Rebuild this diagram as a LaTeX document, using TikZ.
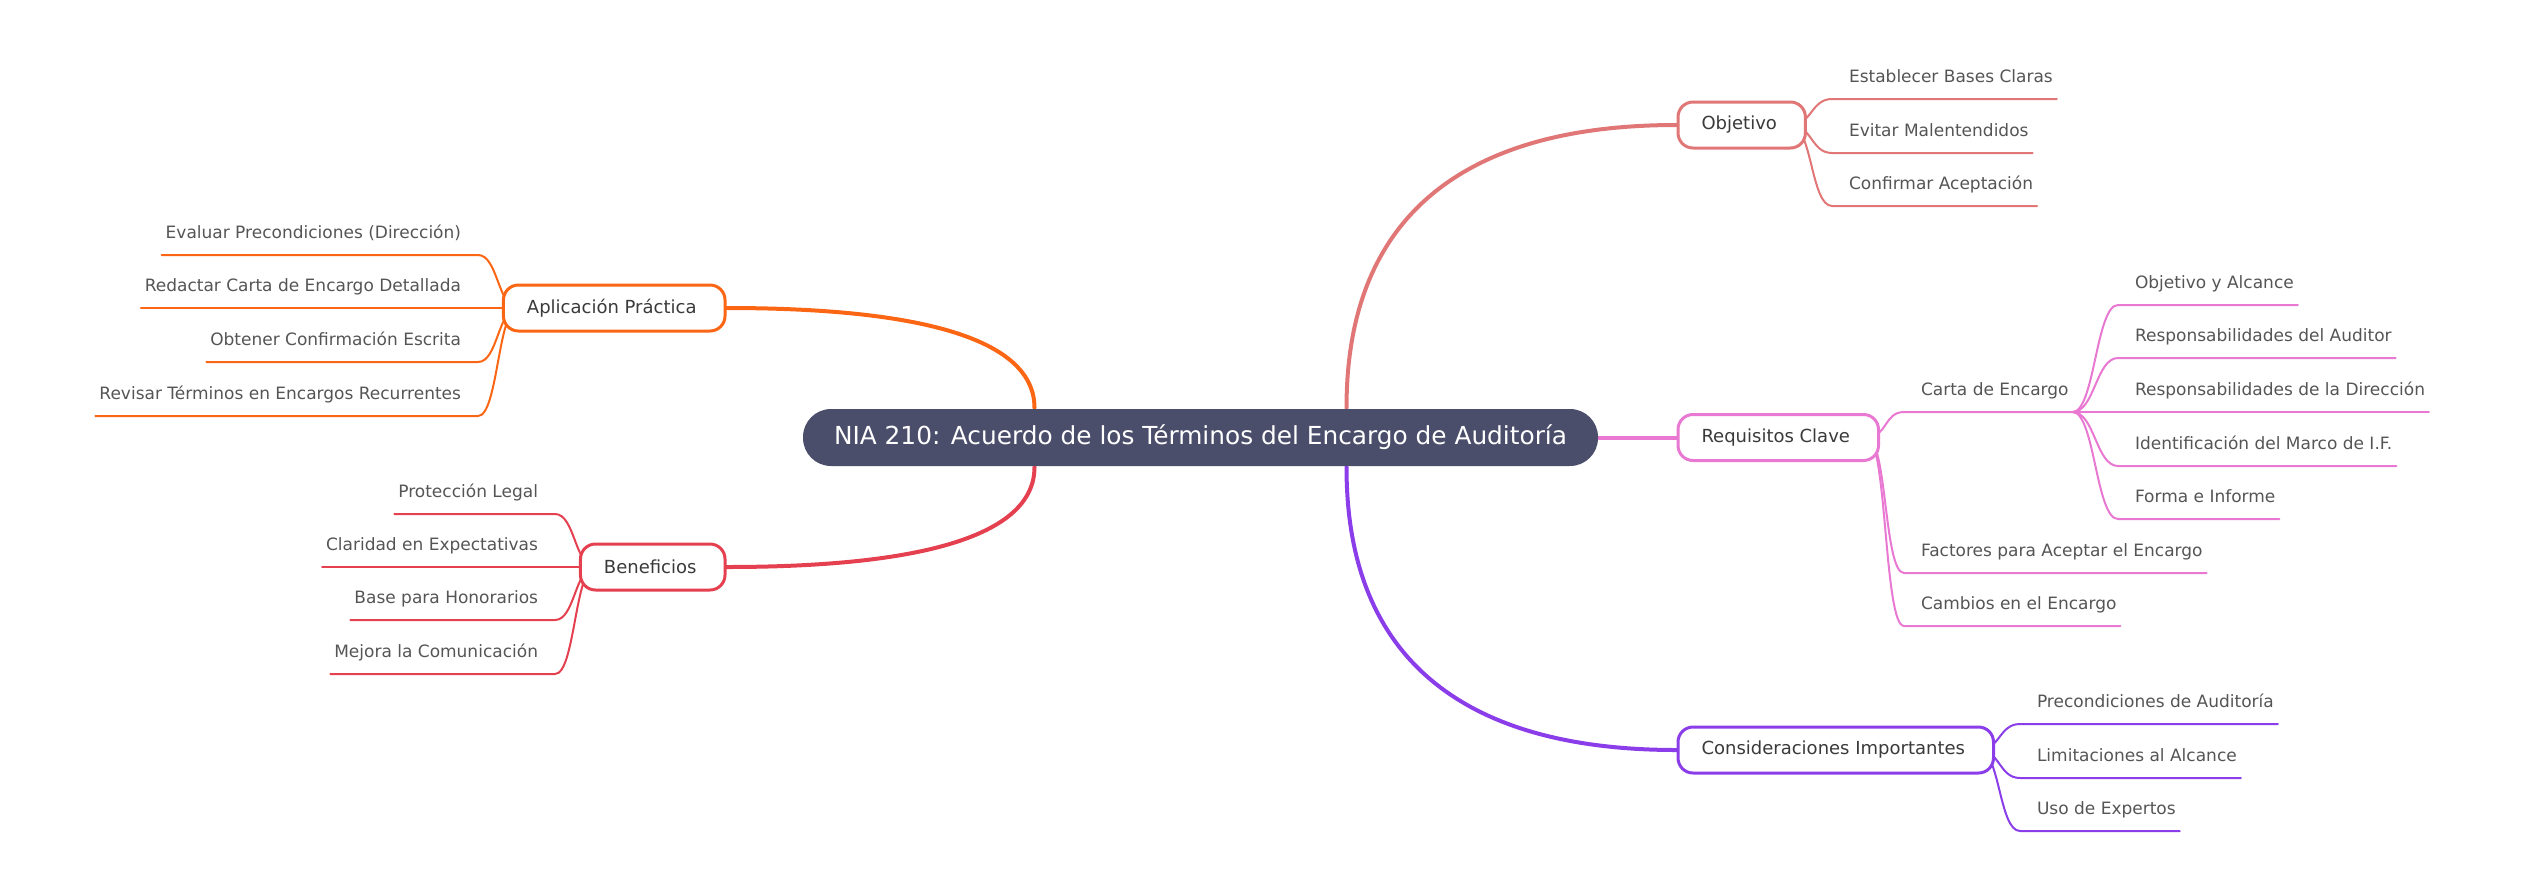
\documentclass[tikz,border=0pt]{standalone}
\usepackage{fontspec}
\setmainfont{DejaVu Sans}
\usetikzlibrary{backgrounds}

\definecolor{niafill}{HTML}{4B4E6B}
\definecolor{objcol}{HTML}{E07676}
\definecolor{reqcol}{HTML}{E878D2}
\definecolor{conscol}{HTML}{8A3DE8}
\definecolor{aplcol}{HTML}{FB6614}
\definecolor{bencol}{HTML}{E4404F}
\definecolor{boxtext}{HTML}{3A3A3A}
\definecolor{leaftext}{HTML}{555555}

\begin{document}
\begin{tikzpicture}[x=1pt, y=-1pt]

\tikzset{%
every node/.style={inner sep=0pt},%
every path/.style={line width=2pt, line cap=round}%
}

\tikzstyle{root}=[fill=niafill, text=white, rounded corners=28pt, minimum width=795pt, minimum height=57pt, font=\fontsize{24.8}{28}\selectfont]
\tikzstyle{branch}=[draw, fill=white, line width=3pt, rounded corners=15pt, minimum height=46pt, inner xsep=23.5pt, text=boxtext, font=\fontsize{18}{22}\selectfont, execute at end node=\hspace*{5pt}]
\tikzstyle{leaf}=[text=leaftext, font=\fontsize{17}{20}\selectfont, text height=14pt, text depth=16pt]
\tikzstyle{leafr}=[leaf, anchor=south west, execute at begin node=\hspace*{16pt}, execute at end node=\hspace*{3pt}]
\tikzstyle{leafl}=[leaf, anchor=south east, execute at begin node=\hspace*{3pt}, execute at end node=\hspace*{16pt}]
\tikzstyle{trunk}=[line width=4pt]

\useasboundingbox (0,0) rectangle (2523,876);

\node[root] (nia) at (1200.5,437.5) {NIA 210: Acuerdo de los Términos del Encargo de Auditoría};

\node[branch, draw=objcol, anchor=west] (obj) at (1676.5,125) {Objetivo};
\node[branch, draw=reqcol, anchor=west] (req) at (1676.5,437.5) {Requisitos Clave};
\node[branch, draw=conscol, anchor=west] (cons) at (1676.5,750) {Consideraciones Importantes};
\node[branch, draw=aplcol, anchor=east] (apl) at (726.5,308) {Aplicación Práctica};
\node[branch, draw=bencol, anchor=east] (ben) at (726.5,567) {Beneficios};

\node[leafr] (obj-1) at (1832,99) {Establecer Bases Claras};
\node[leafr] (obj-2) at (1832,153) {Evitar Malentendidos};
\node[leafr] (obj-3) at (1832,206) {Confirmar Aceptación};

\node[leafr] (carta) at (1904,412) {Carta de Encargo};
\node[leafr] (fact) at (1904,573) {Factores para Aceptar el Encargo};
\node[leafr] (camb) at (1904,626) {Cambios en el Encargo};

\node[leafr] (carta-1) at (2118,305) {Objetivo y Alcance};
\node[leafr] (carta-2) at (2118,358) {Responsabilidades del Auditor};
\node[leafr] (carta-3) at (2118,412) {Responsabilidades de la Dirección};
\node[leafr] (carta-4) at (2118,466) {Identificación del Marco de I.F.};
\node[leafr] (carta-5) at (2118,519) {Forma e Informe};

\node[leafr] (cons-1) at (2020,724) {Precondiciones de Auditoría};
\node[leafr] (cons-2) at (2020,778) {Limitaciones al Alcance};
\node[leafr] (cons-3) at (2020,831) {Uso de Expertos};

\node[leafl] (apl-1) at (478,255) {Evaluar Precondiciones (Dirección)};
\node[leafl] (apl-2) at (478,308) {Redactar Carta de Encargo Detallada};
\node[leafl] (apl-3) at (478,362) {Obtener Confirmación Escrita};
\node[leafl] (apl-4) at (478,416) {Revisar Términos en Encargos Recurrentes};

\node[leafl] (ben-1) at (555,514) {Protección Legal};
\node[leafl] (ben-2) at (555,567) {Claridad en Expectativas};
\node[leafl] (ben-3) at (555,620) {Base para Honorarios};
\node[leafl] (ben-4) at (555,674) {Mejora la Comunicación};

\begin{scope}[on background layer]
\draw[trunk, objcol] ([xshift=146pt]nia.north) .. controls +(0,-113) and +(-291,0) .. (obj.west);
\draw[trunk, reqcol] (nia.east) -- (req.west);
\draw[trunk, conscol] ([xshift=146pt]nia.south) .. controls +(0,113) and +(-291,0) .. (cons.west);
\draw[trunk, aplcol] ([xshift=-166pt]nia.north) .. controls +(0,-40) and +(271,0) .. (apl.east);
\draw[trunk, bencol] ([xshift=-166pt]nia.south) .. controls +(0,40) and +(271,0) .. (ben.east);

\draw[objcol] ([xshift=-16pt]obj.east) .. controls +(21,0) and +(-21,0) .. (obj-1.south west) -- (obj-1.south east);
\draw[objcol] ([xshift=-16pt]obj.east) .. controls +(21,0) and +(-21,0) .. (obj-2.south west) -- (obj-2.south east);
\draw[objcol] ([xshift=-16pt]obj.east) .. controls +(21,0) and +(-21,0) .. (obj-3.south west) -- (obj-3.south east);

\draw[reqcol] ([xshift=-13pt]req.east) .. controls +(20,0) and +(-20,0) .. (carta.south west) -- (carta.south east);
\draw[reqcol] ([xshift=-13pt]req.east) .. controls +(20,0) and +(-20,0) .. (fact.south west) -- (fact.south east);
\draw[reqcol] ([xshift=-13pt]req.east) .. controls +(20,0) and +(-20,0) .. (camb.south west) -- (camb.south east);

\draw[reqcol] (carta.south east) .. controls +(22,0) and +(-22,0) .. (carta-1.south west) -- (carta-1.south east);
\draw[reqcol] (carta.south east) .. controls +(22,0) and +(-22,0) .. (carta-2.south west) -- (carta-2.south east);
\draw[reqcol] (carta.south east) .. controls +(22,0) and +(-22,0) .. (carta-3.south west) -- (carta-3.south east);
\draw[reqcol] (carta.south east) .. controls +(22,0) and +(-22,0) .. (carta-4.south west) -- (carta-4.south east);
\draw[reqcol] (carta.south east) .. controls +(22,0) and +(-22,0) .. (carta-5.south west) -- (carta-5.south east);

\draw[conscol] ([xshift=-16pt]cons.east) .. controls +(21,0) and +(-21,0) .. (cons-1.south west) -- (cons-1.south east);
\draw[conscol] ([xshift=-16pt]cons.east) .. controls +(21,0) and +(-21,0) .. (cons-2.south west) -- (cons-2.south east);
\draw[conscol] ([xshift=-16pt]cons.east) .. controls +(21,0) and +(-21,0) .. (cons-3.south west) -- (cons-3.south east);

\draw[aplcol] ([xshift=16pt]apl.west) .. controls +(-20,0) and +(20,0) .. (apl-1.south east) -- (apl-1.south west);
\draw[aplcol] ([xshift=16pt]apl.west) .. controls +(-20,0) and +(20,0) .. (apl-2.south east) -- (apl-2.south west);
\draw[aplcol] ([xshift=16pt]apl.west) .. controls +(-20,0) and +(20,0) .. (apl-3.south east) -- (apl-3.south west);
\draw[aplcol] ([xshift=16pt]apl.west) .. controls +(-20,0) and +(20,0) .. (apl-4.south east) -- (apl-4.south west);

\draw[bencol] ([xshift=16pt]ben.west) .. controls +(-20,0) and +(20,0) .. (ben-1.south east) -- (ben-1.south west);
\draw[bencol] ([xshift=16pt]ben.west) .. controls +(-20,0) and +(20,0) .. (ben-2.south east) -- (ben-2.south west);
\draw[bencol] ([xshift=16pt]ben.west) .. controls +(-20,0) and +(20,0) .. (ben-3.south east) -- (ben-3.south west);
\draw[bencol] ([xshift=16pt]ben.west) .. controls +(-20,0) and +(20,0) .. (ben-4.south east) -- (ben-4.south west);
\end{scope}

\end{tikzpicture}
\end{document}
